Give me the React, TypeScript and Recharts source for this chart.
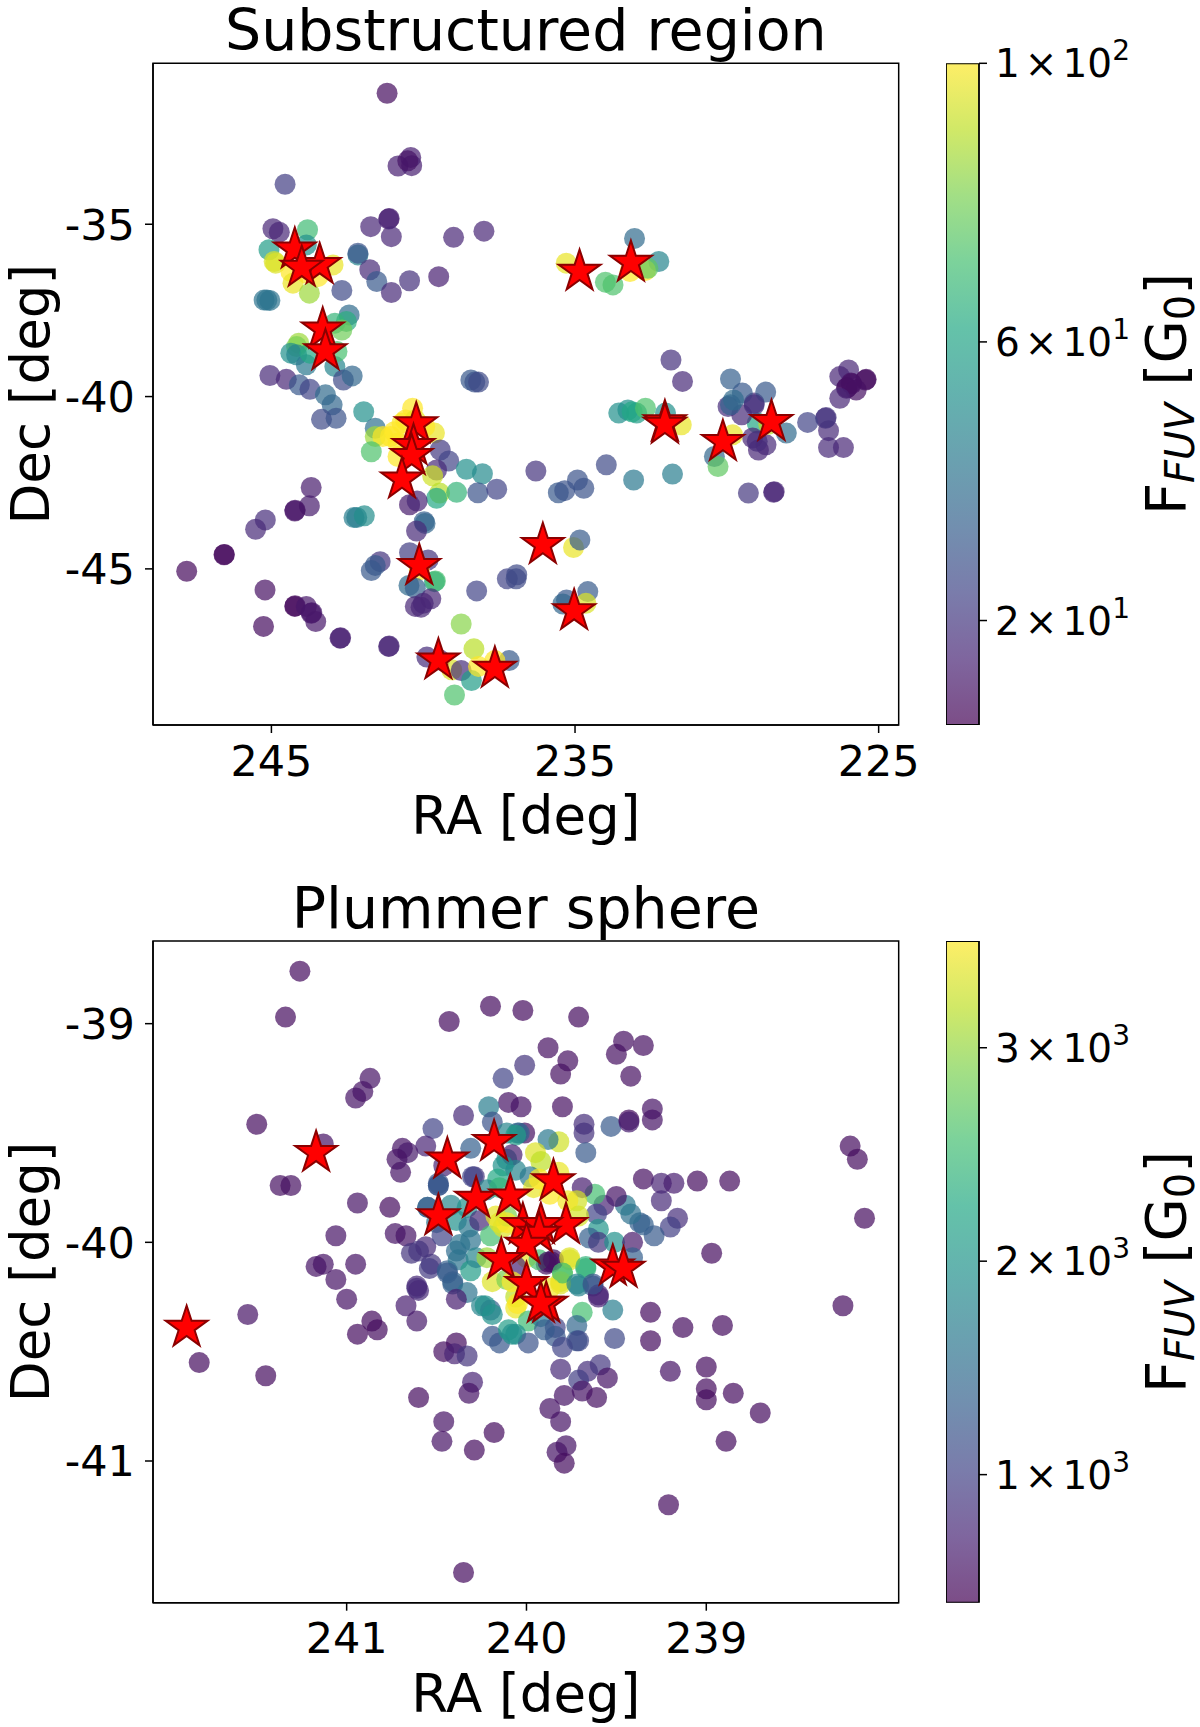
import { BarChart, Bar, ReferenceArea, Scatter, ScatterChart, XAxis, YAxis } from 'recharts';

// [RA, Dec, F_FUV]
const regionSources = [
  [241.19, -31.2, 8], [244.55, -33.84, 22], [240.83, -33.31, 13], [240.41, -33.06, 13], [240.38, -33.3, 13],
  [240.51, -33.16, 10], [241.14, -34.85, 13], [241.12, -34.83, 13], [241.73, -35.07, 15], [241.05, -35.36, 15],
  [244.95, -35.13, 15], [244.74, -35.23, 15], [243.81, -35.16, 70], [243.85, -35.6, 52], [245.08, -35.74, 57],
  [244.91, -36.08, 95], [244.86, -36.13, 95], [242.97, -36.18, 97], [244.36, -36.37, 100], [244.29, -36.71, 97],
  [243.85, -36.42, 100], [243.47, -36.52, 100], [243.75, -37.0, 86], [242.15, -35.89, 48], [242.15, -35.84, 29],
  [241.76, -36.32, 16], [241.53, -36.66, 31], [241.05, -36.98, 16], [240.45, -36.64, 18], [239.49, -36.52, 13],
  [242.68, -36.92, 26], [239.0, -35.38, 15], [238.0, -35.2, 15], [245.24, -37.2, 41], [245.05, -37.21, 41],
  [245.15, -37.2, 41], [242.44, -37.63, 38], [242.53, -37.82, 64], [242.91, -37.87, 67], [242.68, -38.07, 79],
  [244.1, -38.45, 86], [244.17, -38.55, 81], [244.36, -38.74, 52], [244.17, -38.79, 48], [243.85, -39.08, 43],
  [242.91, -39.13, 48], [242.84, -38.69, 72], [243.73, -38.74, 62], [245.05, -39.39, 16], [244.51, -39.5, 15],
  [244.08, -39.66, 31], [243.73, -39.79, 24], [243.22, -39.95, 38], [242.63, -39.52, 26], [242.34, -39.4, 36],
  [243.0, -40.24, 36], [243.35, -40.66, 26], [242.87, -40.63, 29], [241.96, -40.44, 52], [238.43, -39.52, 31],
  [238.3, -39.58, 29], [238.18, -39.58, 26], [241.58, -40.92, 40], [241.58, -41.16, 86], [241.33, -41.16, 100],
  [240.95, -41.02, 100], [240.7, -40.77, 100], [240.35, -40.34, 100], [240.58, -40.68, 100], [240.26, -40.68, 97],
  [239.63, -41.06, 97], [239.95, -40.87, 100], [240.83, -41.35, 100], [241.08, -41.16, 100], [241.71, -41.6, 73],
  [240.83, -41.74, 100], [239.44, -41.55, 21], [239.16, -41.87, 24], [239.56, -42.13, 16], [239.69, -42.3, 93],
  [238.58, -42.11, 52], [238.05, -42.24, 50], [239.46, -42.8, 90], [238.9, -42.78, 67], [239.56, -42.95, 62],
  [238.2, -42.79, 29], [237.58, -42.69, 24], [236.29, -42.16, 19], [235.55, -42.79, 31], [235.34, -42.73, 29],
  [234.92, -42.42, 29], [234.71, -42.66, 29], [243.69, -42.64, 12], [243.75, -43.17, 12], [244.23, -43.32, 10],
  [244.22, -43.3, 10], [245.2, -43.58, 17], [245.52, -43.85, 16], [242.28, -43.51, 45], [242.19, -43.51, 45],
  [241.94, -43.46, 51], [240.45, -43.14, 12], [240.2, -43.03, 15], [239.97, -43.63, 34], [239.94, -43.68, 36],
  [240.22, -43.9, 16], [246.56, -44.59, 7], [246.55, -44.58, 7], [247.79, -45.07, 7], [241.42, -44.79, 19],
  [241.58, -44.9, 31], [241.71, -45.05, 31], [240.45, -44.53, 22], [239.84, -44.74, 19], [240.13, -45.03, 100],
  [239.63, -45.37, 57], [239.6, -45.35, 72], [240.47, -45.48, 38], [240.26, -45.56, 34], [239.75, -45.87, 15],
  [240.0, -46.0, 15], [240.26, -46.09, 15], [240.07, -46.11, 15], [238.24, -45.64, 24], [237.23, -45.29, 24],
  [236.92, -45.17, 26], [236.94, -45.29, 26], [235.05, -44.38, 97], [234.84, -44.16, 32], [235.28, -45.9, 31],
  [235.4, -46.02, 36], [234.58, -45.66, 32], [234.64, -46.0, 95], [245.21, -45.61, 9], [245.26, -46.67, 8],
  [244.23, -46.09, 7], [244.22, -46.07, 7], [243.85, -46.09, 11], [243.69, -46.29, 11], [243.67, -46.27, 11],
  [243.54, -46.53, 11], [242.74, -47.01, 13], [242.72, -47.0, 13], [241.14, -47.25, 15], [241.12, -47.24, 15],
  [238.75, -46.6, 83], [238.33, -47.32, 90], [239.88, -47.56, 17], [239.46, -47.64, 15], [239.06, -47.93, 95],
  [238.75, -47.95, 17], [238.41, -48.24, 57], [238.97, -48.66, 73], [238.18, -47.83, 100], [237.17, -47.66, 32],
  [237.64, -47.66, 100], [233.97, -41.98, 26], [233.07, -42.42, 43], [231.79, -42.25, 45], [230.41, -41.74, 36],
  [230.29, -42.03, 76], [229.29, -42.8, 20], [228.46, -42.78, 15], [228.44, -42.76, 15], [226.65, -41.48, 16],
  [226.16, -41.48, 15], [226.65, -40.99, 16], [226.75, -40.63, 19], [226.73, -40.61, 19], [227.34, -40.75, 24],
  [228.04, -41.06, 38], [229.0, -40.77, 62], [229.15, -41.2, 15], [228.71, -41.4, 16], [228.96, -41.55, 15],
  [229.0, -41.3, 17], [229.96, -40.29, 17], [229.51, -40.53, 16], [229.1, -40.19, 16], [229.88, -40.24, 34],
  [231.5, -40.82, 97], [229.81, -41.11, 97], [228.62, -40.8, 90], [235.29, -36.13, 97], [234.0, -36.68, 73],
  [233.75, -36.76, 73], [233.04, -35.41, 38], [232.24, -36.08, 48], [233.19, -36.37, 100], [232.68, -36.34, 100],
  [232.6, -36.28, 76], [231.84, -38.94, 18], [231.46, -39.56, 16], [233.56, -40.48, 52], [233.26, -40.39, 52],
  [232.97, -40.48, 57], [233.12, -40.44, 62], [232.68, -40.34, 73], [232.02, -40.48, 52], [229.88, -39.49, 34],
  [229.49, -39.9, 31], [229.78, -40.1, 38], [228.72, -39.87, 31], [229.1, -40.24, 18], [225.99, -39.23, 15],
  [226.28, -39.42, 15], [225.43, -39.52, 8], [225.41, -39.5, 8], [225.91, -39.61, 9], [225.89, -39.63, 9],
  [226.06, -39.76, 9], [226.04, -39.74, 9], [225.74, -39.81, 9], [226.28, -40.05, 15],
];

const regionStars = [
  [244.23, -35.73], [243.41, -36.18], [244.0, -36.26], [243.31, -38.05], [243.22, -38.68],
  [240.23, -40.8], [240.32, -41.43], [240.38, -41.72], [240.7, -42.4], [240.13, -44.91],
  [239.5, -47.65], [237.64, -47.89], [236.06, -44.3], [235.03, -46.22], [234.85, -36.37],
  [233.16, -36.11], [232.04, -40.74], [232.04, -40.81], [228.53, -40.73], [230.13, -41.31],
];

const plummerSources = [
  [241.26, -38.76, 490], [241.34, -38.97, 490], [240.43, -38.99, 490], [240.2, -38.92, 490], [240.02, -38.94, 490],
  [239.71, -38.97, 490], [239.88, -39.11, 520], [239.77, -39.17, 520], [239.81, -39.23, 520], [240.01, -39.19, 865],
  [240.13, -39.25, 1020], [240.87, -39.25, 555], [240.91, -39.31, 555], [240.95, -39.34, 555], [241.5, -39.46, 490],
  [241.13, -39.55, 555], [239.8, -39.38, 520], [240.1, -39.36, 555], [240.03, -39.38, 555], [240.21, -39.38, 1700],
  [240.35, -39.42, 770], [240.19, -39.45, 1175], [240.52, -39.48, 1020], [240.56, -39.56, 710], [240.69, -39.57, 555],
  [240.66, -39.59, 620], [240.72, -39.62, 555], [240.7, -39.68, 555], [240.31, -39.57, 1330], [240.46, -39.65, 710],
  [240.29, -39.7, 865], [240.49, -39.73, 1175], [240.49, -39.74, 1240], [241.37, -39.74, 520], [241.31, -39.74, 520],
  [240.94, -39.82, 555], [240.76, -39.84, 490], [241.06, -39.97, 555], [240.73, -39.96, 555], [240.67, -39.97, 555],
  [241.17, -40.11, 555], [241.13, -40.1, 555], [240.95, -40.1, 555], [241.06, -40.17, 555], [241.0, -40.26, 555],
  [240.64, -40.05, 865], [240.56, -40.02, 770], [240.6, -40.04, 865], [240.53, -40.1, 865], [240.54, -40.12, 930],
  [240.44, -40.13, 1330], [240.41, -40.18, 1420], [240.61, -40.21, 865], [240.6, -40.22, 770], [240.55, -39.84, 1485],
  [239.46, -39.08, 520], [239.35, -39.1, 520], [239.5, -39.14, 520], [239.42, -39.24, 520], [239.3, -39.39, 555],
  [239.3, -39.44, 555], [239.68, -39.46, 800], [239.68, -39.5, 830], [239.67, -39.59, 1270], [239.53, -39.47, 1270],
  [239.43, -39.44, 490], [239.43, -39.45, 650], [239.82, -39.54, 3280], [239.88, -39.53, 1640], [239.95, -39.59, 3345],
  [239.92, -39.63, 3190], [240.01, -39.5, 520], [240.05, -39.5, 1485], [238.2, -39.56, 490], [238.16, -39.62, 490],
  [238.12, -39.89, 490], [239.35, -39.71, 520], [239.25, -39.73, 710], [239.18, -39.73, 650], [239.05, -39.72, 490],
  [238.87, -39.72, 490], [239.25, -39.81, 770], [239.16, -39.89, 800], [239.2, -39.93, 960], [239.29, -39.97, 1270],
  [239.35, -39.92, 1330], [239.37, -39.91, 1330], [239.42, -39.87, 1550], [239.45, -39.83, 1640], [239.5, -39.79, 555],
  [239.57, -39.83, 710], [239.62, -39.78, 2570], [239.69, -39.75, 650], [239.72, -39.81, 3280], [239.61, -39.87, 1020],
  [239.6, -39.94, 2010], [239.65, -39.98, 1330], [239.6, -40.0, 865], [239.51, -40.0, 1950], [239.41, -40.0, 620],
  [239.41, -40.07, 1330], [238.97, -40.05, 490], [239.67, -40.12, 2415], [239.76, -40.08, 3345], [239.86, -40.09, 520],
  [239.89, -40.1, 520], [239.8, -40.14, 2880], [239.81, -40.18, 3345], [239.71, -40.2, 1795], [239.63, -40.2, 1330],
  [239.6, -40.24, 650], [240.04, -39.5, 1330], [240.11, -39.5, 1795], [240.06, -39.51, 2105], [240.11, -39.62, 1950],
  [240.08, -39.6, 650], [240.06, -39.67, 1795], [240.13, -39.65, 1950], [240.16, -39.71, 2260], [240.3, -39.7, 1020],
  [239.98, -39.7, 1640], [240.49, -39.74, 1240], [239.96, -39.75, 3405], [239.82, -39.68, 3405], [240.22, -39.76, 1795],
  [240.15, -39.75, 2415], [240.55, -39.84, 1330], [240.42, -39.83, 1795], [240.33, -39.84, 1950], [240.5, -39.91, 1580],
  [240.39, -39.9, 1950], [240.32, -39.93, 1640], [240.26, -39.9, 770], [240.47, -39.97, 1020], [240.39, -40.04, 1485],
  [240.37, -40.01, 1580], [240.31, -39.99, 1580], [240.38, -40.08, 1580], [240.31, -40.13, 2105], [240.28, -40.07, 1795],
  [240.22, -40.07, 3035], [240.2, -39.97, 2570], [240.15, -39.91, 3345], [240.13, -39.93, 3345], [240.11, -39.88, 2880],
  [240.0, -40.07, 3405], [239.93, -40.08, 2570], [239.88, -40.09, 520], [239.85, -40.08, 520], [239.76, -40.07, 3345],
  [239.81, -40.19, 3345], [239.8, -40.14, 2570], [239.67, -40.11, 2415], [239.72, -40.19, 1795], [240.19, -40.18, 3345],
  [240.11, -40.17, 2880], [240.06, -40.11, 710], [240.06, -40.25, 3190], [240.06, -40.3, 3405], [240.44, -40.14, 1270],
  [240.41, -40.19, 1330], [240.33, -40.23, 1580], [240.39, -40.26, 650], [240.25, -40.29, 1795], [240.2, -40.31, 1330],
  [239.99, -40.36, 2510], [239.92, -40.34, 1640], [239.84, -40.39, 1020], [239.69, -40.32, 2570], [239.72, -40.38, 1420],
  [239.52, -40.31, 1700], [239.6, -40.25, 710], [239.63, -40.19, 1175], [239.31, -40.32, 490], [239.13, -40.39, 490],
  [239.31, -40.45, 490], [240.61, -40.2, 770], [240.67, -40.29, 650], [240.61, -40.36, 620], [240.86, -40.36, 490],
  [240.83, -40.4, 490], [240.94, -40.42, 490], [240.19, -40.43, 1240],
  [240.15, -40.46, 1240], [240.1, -40.4, 2105], [240.06, -40.42, 1950], [239.99, -40.46, 1175], [239.9, -40.4, 1330],
  [239.84, -40.43, 1240], [239.72, -40.45, 1240], [239.51, -40.44, 1080], [239.8, -40.48, 1020], [241.55, -40.33, 555],
  [241.82, -40.55, 490], [241.45, -40.61, 490], [238.24, -40.29, 490], [240.46, -40.5, 520], [240.39, -40.46, 490],
  [240.4, -40.51, 710], [240.33, -40.52, 865], [240.23, -40.29, 1950], [240.19, -40.33, 1950], [240.08, -40.42, 1950],
  [239.71, -40.45, 1080], [238.91, -40.38, 490], [239.81, -40.58, 770], [239.66, -40.59, 800],
  [239.59, -40.56, 900], [239.71, -40.63, 960], [239.55, -40.62, 555], [239.2, -40.59, 555], [239.0, -40.57, 490],
  [239.0, -40.67, 490], [239.0, -40.72, 490], [238.85, -40.69, 490], [238.7, -40.78, 490], [239.79, -40.7, 555],
  [239.69, -40.68, 555], [239.61, -40.71, 520], [239.87, -40.76, 555], [239.81, -40.82, 555], [239.78, -40.93, 555],
  [239.83, -40.96, 555], [239.79, -41.01, 490], [238.89, -40.91, 490], [239.21, -41.2, 490], [240.35, -41.51, 490],
  [240.6, -40.71, 490], [240.3, -40.64, 710], [240.32, -40.69, 555], [240.46, -40.82, 555], [240.47, -40.91, 555],
  [240.29, -40.95, 490], [240.18, -40.87, 490],
  [240.11, -39.91, 3500], [240.17, -39.88, 3400], [239.87, -39.78, 3500], [239.77, -39.81, 3450], [240.08, -40.18, 3500],
  [239.87, -40.21, 3450], [239.71, -39.88, 3300], [240.05, -40.28, 3500], [239.93, -39.71, 3500], [240.03, -39.97, 3500],
];

const plummerStars = [
  [241.17, -39.59], [240.44, -39.62], [240.18, -39.54], [240.28, -39.8], [240.09, -39.79],
  [239.85, -39.72], [240.49, -39.88], [239.78, -39.92], [240.02, -39.92], [239.92, -39.92],
  [239.93, -39.96], [240.0, -40.01], [240.14, -40.08], [240.0, -40.19], [239.89, -40.28],
  [239.92, -40.28], [239.52, -40.11], [239.46, -40.12], [241.89, -40.39],
];

const regionRaTicks = [245, 235, 225];
const regionDecTicks = [-35, -40, -45];
const regionFluxTicks = [20, 60, 100];
const plummerRaTicks = [241, 240, 239];
const plummerDecTicks = [-39, -40, -41];
const plummerFluxTicks = [1000, 2000, 3000];

const VIRIDIS = [
  '#440154', '#482475', '#414487', '#355f8d', '#2a788e', '#21918c',
  '#22a884', '#44bf70', '#7ad151', '#bddf26', '#fde725',
];

const channel = (hex: string, i: number) => parseInt(hex.slice(1 + i * 2, 3 + i * 2), 16);

function viridis(t: number) {
  const pos = Math.min(Math.max(t, 0), 1) * (VIRIDIS.length - 1);
  const i = Math.min(Math.floor(pos), VIRIDIS.length - 2);
  const f = pos - i;
  const rgb = [0, 1, 2].map((c) =>
    Math.round(channel(VIRIDIS[i], c) * (1 - f) + channel(VIRIDIS[i + 1], c) * f)
  );
  return `rgb(${rgb.join(',')})`;
}

const FONT = '"DejaVu Sans", sans-serif';
const PLOT_LEFT = 153;
const PLOT_RIGHT = 898.7;
const AXIS_HEIGHT = 115;

function starPoints(cx: number, cy: number, r: number) {
  const pts = [];
  for (let i = 0; i < 10; i++) {
    const rad = i % 2 === 0 ? r : r * 0.382;
    const a = (Math.PI * i) / 5;
    pts.push(`${cx + rad * Math.sin(a)},${cy - rad * Math.cos(a)}`);
  }
  return pts.join(' ');
}

function ColorbarTick({ x, y, payload }: any) {
  const exp = Math.floor(Math.log10(payload.value));
  const mant = Math.round(payload.value / 10 ** exp);
  return (
    <text x={x + 2} y={y + 14} fontSize={39} fill="#000" fontFamily={FONT}>
      <tspan>{mant}</tspan>
      <tspan dx={5}>×</tspan>
      <tspan dx={5}>10</tspan>
      <tspan fontSize={28} dy={-17}>{exp}</tspan>
    </text>
  );
}

function Colorbar({ id, top, height, marginTop, marginBottom, domain, ticks }: any) {
  return (
    <div style={{ position: 'absolute', left: 945.5, top }}>
      <BarChart
        width={200}
        height={height}
        data={[{ name: 'scale', span: domain }]}
        margin={{ top: marginTop, bottom: marginBottom, left: 0, right: 0 }}
        barCategoryGap={0}
      >
        <defs>
          <linearGradient id={id} x1="0" y1="1" x2="0" y2="0">
            {VIRIDIS.map((c, i) => (
              <stop key={c} offset={i / (VIRIDIS.length - 1)} stopColor={c} stopOpacity={0.7} />
            ))}
          </linearGradient>
        </defs>
        <XAxis dataKey="name" hide />
        <YAxis
          orientation="right"
          width={167}
          type="number"
          domain={domain}
          ticks={ticks}
          allowDataOverflow
          axisLine={false}
          tickSize={8}
          tickMargin={6}
          tickLine={{ stroke: '#000', strokeWidth: 1.5 }}
          tick={<ColorbarTick />}
          interval={0}
        />
        <Bar dataKey="span" fill={`url(#${id})`} stroke="#000" strokeWidth={1.8} isAnimationActive={false} />
      </BarChart>
    </div>
  );
}

function Panel({ title, top, height, plotTop, plotBottom, raDomain, decDomain, fluxDomain, raTicks, decTicks, fluxTicks, sources, stars, id }: any) {
  const marginTop = plotTop - top;
  const marginBottom = top + height - plotBottom - AXIS_HEIGHT;
  const sourceData = sources.map(([ra, dec, flux]: number[]) => ({ ra, dec, flux }));
  const starData = stars.map(([ra, dec]: number[]) => ({ ra, dec }));
  const tickStyle = { fontSize: 43, fill: '#000', fontFamily: FONT };
  const labelStyle = { fontSize: 53, fill: '#000', fontFamily: FONT };
  const span = fluxDomain[1] - fluxDomain[0];

  return (
    <>
      <div
        style={{
          position: 'absolute',
          left: PLOT_LEFT,
          width: PLOT_RIGHT - PLOT_LEFT,
          top: plotTop - 63,
          textAlign: 'center',
          fontSize: 57,
          lineHeight: '60px',
          fontFamily: FONT,
          color: '#000',
          whiteSpace: 'nowrap',
        }}
      >
        {title}
      </div>
      <div style={{ position: 'absolute', left: 0, top }}>
        <ScatterChart
          width={PLOT_RIGHT + 60}
          height={height}
          margin={{ top: marginTop, bottom: marginBottom, left: 0, right: 60 }}
        >
          <XAxis
            type="number"
            dataKey="ra"
            reversed
            domain={raDomain}
            ticks={raTicks}
            allowDataOverflow
            interval={0}
            height={AXIS_HEIGHT}
            tickSize={8}
            tickMargin={12}
            stroke="#000"
            strokeWidth={1.5}
            tick={tickStyle}
            label={{ value: 'RA [deg]', position: 'insideBottom', offset: 6, style: labelStyle }}
          />
          <YAxis
            type="number"
            dataKey="dec"
            domain={decDomain}
            ticks={decTicks}
            allowDataOverflow
            interval={0}
            width={PLOT_LEFT}
            tickSize={8}
            tickMargin={10}
            stroke="#000"
            strokeWidth={1.5}
            tick={tickStyle}
            label={{ value: 'Dec [deg]', angle: -90, position: 'insideLeft', offset: 30, style: { ...labelStyle, textAnchor: 'middle' } }}
          />
          <ReferenceArea
            x1={raDomain[0]}
            x2={raDomain[1]}
            y1={decDomain[0]}
            y2={decDomain[1]}
            fill="none"
            stroke="#000"
            strokeWidth={1.5}
            ifOverflow="visible"
          />
          <Scatter
            data={sourceData}
            isAnimationActive={false}
            shape={(p: any) => (
              <circle
                cx={p.cx}
                cy={p.cy}
                r={10.5}
                fill={viridis((p.payload.flux - fluxDomain[0]) / span)}
                fillOpacity={0.7}
              />
            )}
          />
          <Scatter
            data={starData}
            isAnimationActive={false}
            shape={(p: any) => (
              <polygon
                points={starPoints(p.cx, p.cy, 22)}
                fill="#ff0000"
                stroke="#8b0000"
                strokeWidth={2}
                strokeLinejoin="miter"
              />
            )}
          />
        </ScatterChart>
      </div>
      <Colorbar
        id={id}
        top={top}
        height={height}
        marginTop={marginTop}
        marginBottom={top + height - plotBottom}
        domain={fluxDomain}
        ticks={fluxTicks}
      />
      <div
        style={{
          position: 'absolute',
          left: 1168,
          top: (plotTop + plotBottom) / 2,
          transform: 'translate(-50%, -50%) rotate(-90deg)',
          whiteSpace: 'nowrap',
          fontSize: 56,
          lineHeight: '56px',
          fontFamily: FONT,
          color: '#000',
        }}
      >
        F<span style={{ fontStyle: 'italic', fontSize: 40, position: 'relative', top: 9 }}>FUV</span>
        {' [G'}
        <span style={{ fontSize: 40, position: 'relative', top: 9 }}>0</span>]
      </div>
    </>
  );
}

export default function App() {
  return (
    <div style={{ position: 'absolute', left: 0, top: 0, width: 1200, height: 1727, background: '#fff', overflow: 'hidden' }}>
      <Panel
        id="barRegion"
        title="Substructured region"
        top={0}
        height={870}
        plotTop={63.3}
        plotBottom={725}
        raDomain={[224.34, 248.9]}
        decDomain={[-49.53, -30.33]}
        fluxDomain={[5, 100]}
        raTicks={regionRaTicks}
        decTicks={regionDecTicks}
        fluxTicks={regionFluxTicks}
        sources={regionSources}
        stars={regionStars}
      />
      <Panel
        id="barPlummer"
        title="Plummer sphere"
        top={870}
        height={857}
        plotTop={941}
        plotBottom={1602.7}
        raDomain={[237.93, 242.077]}
        decDomain={[-41.648, -38.622]}
        fluxDomain={[400, 3500]}
        raTicks={plummerRaTicks}
        decTicks={plummerDecTicks}
        fluxTicks={plummerFluxTicks}
        sources={plummerSources}
        stars={plummerStars}
      />
    </div>
  );
}
